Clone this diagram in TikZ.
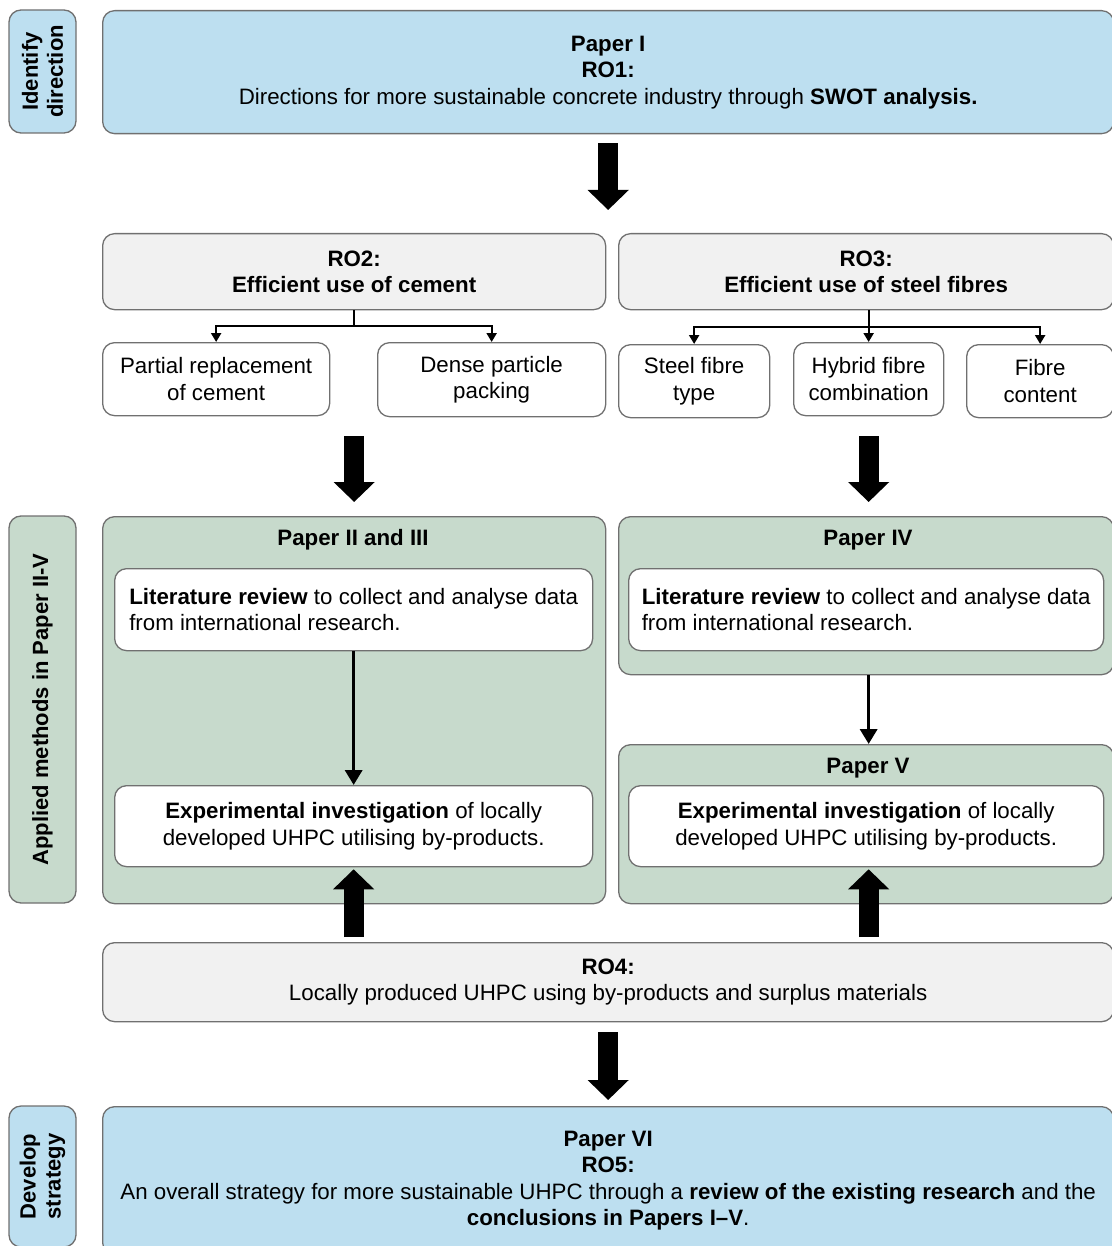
\documentclass[tikz,border=0pt]{standalone}
\usepackage{fontspec}
\setmainfont{Liberation Sans}
\usetikzlibrary{arrows.meta}
\definecolor{boxblue}{RGB}{189,223,240}
\definecolor{boxgreen}{RGB}{199,218,204}
\definecolor{boxgrey}{RGB}{241,241,241}
\definecolor{edgegrey}{RGB}{112,112,112}
\tikzset{
  box/.style={draw=edgegrey, line width=1.3pt, rounded corners=12pt, anchor=north west,
    inner sep=0pt, align=center, font=\fontsize{22.3}{26.5}\selectfont},
  side/.style={box, anchor=center, rotate=90, font=\bfseries\fontsize{22}{25}\selectfont},
  papertitle/.style={font=\bfseries\fontsize{22.3}{26.5}\selectfont},
  fork/.style={line width=2.2pt, -{Triangle[length=9pt,width=10pt]}},
  link/.style={line width=3.5pt, -{Triangle[length=15pt,width=17pt]}},
  bigarrow/.style={line width=20pt, -{Triangle[length=20pt,width=40pt]}},
}
\begin{document}
\begin{tikzpicture}[x=1pt, y=-1pt]
      \useasboundingbox (0,0) rectangle (1111,1246);
      \node[side, fill=boxblue, minimum width=123, minimum height=67] (s1) at (42.5,71.5) {Identify\\direction};
      \node[side, fill=boxgreen, minimum width=387, minimum height=67] (s2) at (42.5,709.5) {Applied methods in Paper II-V};
      \node[side, fill=boxblue, minimum width=141, minimum height=67] (s3) at (42.5,1176.5) {Develop\\strategy};

      \node[box, fill=boxblue, minimum width=1011, minimum height=123] (p1) at (102,10)
        {\textbf{Paper I}\\\textbf{RO1:}\\Directions for more sustainable concrete industry through \textbf{SWOT analysis.}};
      \node[box, fill=boxgrey, minimum width=503, minimum height=76] (ro2) at (102,233)
        {\textbf{RO2:}\\\textbf{Efficient use of cement}};
      \node[box, fill=boxgrey, minimum width=495, minimum height=76] (ro3) at (618,233)
        {\textbf{RO3:}\\\textbf{Efficient use of steel fibres}};
      \node[box, fill=white, minimum width=227, minimum height=73] (part) at (102,342) {Partial replacement\\of cement};
      \node[box, fill=white, minimum width=228, minimum height=74] (dense) at (377,342) {Dense particle\\packing};
      \node[box, fill=white, minimum width=151, minimum height=73] (steel) at (618,344) {Steel fibre\\type};
      \node[box, fill=white, minimum width=150, minimum height=73] (hyb) at (793,342) {Hybrid fibre\\combination};
      \node[box, fill=white, minimum width=147, minimum height=73] (fib) at (966,344) {Fibre\\content};

      \node[box, fill=boxgreen, minimum width=503, minimum height=387] (g23) at (102,516) {};
      \node[papertitle] (t23) at (353,540) {Paper II and III};
      \node[box, fill=white, align=left, minimum width=478, minimum height=82] (lit23) at (114,568)
        {\textbf{Literature review} to collect and analyse data\\from international research.};
      \node[box, fill=white, minimum width=478, minimum height=81] (exp23) at (114,785)
        {\textbf{Experimental investigation} of locally\\developed UHPC utilising by-products.};

      \node[box, fill=boxgreen, minimum width=495, minimum height=158] (g4) at (618,516) {};
      \node[papertitle] (t4) at (868,540) {Paper IV};
      \node[box, fill=white, align=left, minimum width=475, minimum height=82] (lit4) at (628,568)
        {\textbf{Literature review} to collect and analyse data\\from international research.};
      \node[box, fill=boxgreen, minimum width=495, minimum height=159] (g5) at (618,744) {};
      \node[papertitle] (t5) at (868,768) {Paper V};
      \node[box, fill=white, minimum width=475, minimum height=81] (exp5) at (628,785)
        {\textbf{Experimental investigation} of locally\\developed UHPC utilising by-products.};

      \node[box, fill=boxgrey, minimum width=1011, minimum height=79] (ro4) at (102,942)
        {\textbf{RO4:}\\Locally produced UHPC using by-products and surplus materials};
      \node[box, fill=boxblue, minimum width=1011, minimum height=148] (p6) at (102,1106)
        {\textbf{Paper VI}\\\textbf{RO5:}\\An overall strategy for more sustainable UHPC through a \textbf{review of the existing research} and the\\\textbf{conclusions in Papers I--V}.};

      \draw[fork] (ro2.south) -- ++(0,16) -| (part.north);
      \draw[fork] (ro2.south) -- ++(0,16) -| (dense.north);
      \draw[fork] (hyb.north |- ro3.south) -- ++(0,17) -| (steel.north);
      \draw[fork] (hyb.north |- ro3.south) -- ++(0,17) -| (fib.north);
      \draw[fork] (hyb.north |- ro3.south) -- (hyb.north);

      \draw[link] (lit23.south) -- (exp23.north);
      \draw[link] (g4.south -| hyb.north) -- (g5.north -| hyb.north);

      \draw[bigarrow, shorten <=9pt, shorten >=23pt] (p1.south) -- (p1.south |- ro2.north);
      \draw[bigarrow, shorten <=20pt, shorten >=14pt] (ro2.south |- part.south) -- (ro2.south |- g23.north);
      \draw[bigarrow, shorten <=20pt, shorten >=14pt] (hyb.south) -- (hyb.south |- g4.north);
      \draw[bigarrow, shorten <=5pt, shorten >=2pt] (exp23.south |- ro4.north) -- (exp23.south);
      \draw[bigarrow, shorten <=5pt, shorten >=2pt] (hyb.south |- ro4.north) -- (hyb.south |- exp5.south);
      \draw[bigarrow, shorten <=10pt, shorten >=6pt] (ro4.south) -- (ro4.south |- p6.north);
\end{tikzpicture}
\end{document}
